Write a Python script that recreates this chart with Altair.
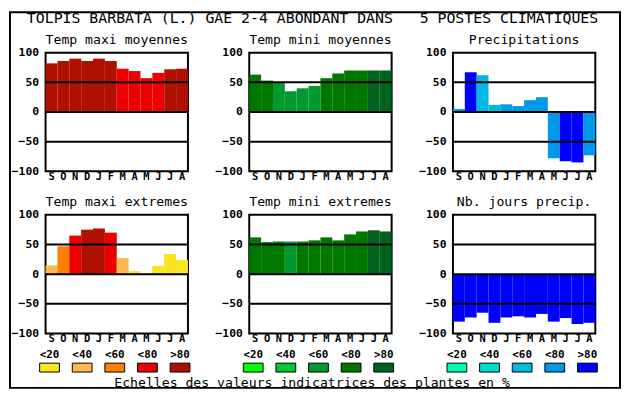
import altair as alt
import pandas as pd

months = ["S", "O", "N", "D", "J", "F", "M", "A", "M", "J", "J", "A"]
classes = ["<20", "<40", "<60", "<80", ">80"]

reds = ["#F8E51E", "#FFB84D", "#FF8000", "#EC0000", "#B01000"]
greens = ["#00FF00", "#00C832", "#009A2E", "#007800", "#006420"]
blues = ["#00FFB0", "#00DCD0", "#00B8E0", "#0098E8", "#0000FF"]

main_title = "TOLPIS BARBATA (L.) GAE 2-4 ABONDANT DANS\u00a0\u00a0\u00a05 POSTES CLIMATIQUES"
footer = "Echelles des valeurs indicatrices des plantes en %"

panel_titles = ["Temp maxi moyennes", "Temp mini moyennes", "Precipitations",
                "Temp maxi extremes", "Temp mini extremes", "Nb. jours precip."]

tmax_moy = [82, 86, 90, 86, 90, 86, 73, 69, 57, 66, 72, 73]
tmax_moy_cls = [4, 4, 4, 4, 4, 4, 3, 3, 3, 3, 4, 4]
tmin_moy = [63, 53, 49, 35, 40, 44, 57, 65, 70, 70, 70, 70]
tmin_moy_cls = [3, 3, 2, 2, 2, 2, 3, 3, 3, 3, 4, 4]
precip = [5, 67, 62, 12, 13, 10, 20, 25, -78, -83, -85, -73]
precip_cls = [3, 4, 2, 2, 3, 3, 3, 3, 3, 4, 4, 3]
tmax_ext = [15, 47, 65, 75, 77, 70, 27, 5, 2, 14, 34, 24]
tmax_ext_cls = [1, 2, 3, 4, 4, 3, 1, 0, 0, 0, 0, 0]
tmin_ext = [62, 54, 55, 55, 55, 57, 62, 57, 67, 72, 74, 72]
tmin_ext_cls = [3, 3, 3, 2, 3, 3, 3, 3, 3, 3, 4, 4]
njours = [-80, -73, -65, -82, -73, -71, -73, -67, -80, -74, -84, -82]
njours_cls = [4, 4, 4, 4, 4, 4, 4, 4, 4, 4, 4, 4]

y_ticks = [-100, -50, 0, 50, 100]
ref_lines = [50, 0, -50]

W, H = 144, 120
MONO = "DejaVu Sans Mono"

month_expr = "[" + ",".join("'%s'" % m for m in months) + "][datum.value]"


def text_mark(txt, x, y, size, weight="normal", baseline="alphabetic"):
    return alt.Chart(pd.DataFrame({"t": [txt]})).mark_text(
        font=MONO, fontSize=size, fontWeight=weight, baseline=baseline,
        align="center", color="black").encode(
        x=alt.value(x), y=alt.value(y), text="t:N")


def panel(title, vals, cls, palette, legend=False, extra=None):
    df = pd.DataFrame({"i": list(range(len(vals))), "v": vals,
                       "c": [palette[k] for k in cls]})
    x = alt.X("i:O", scale=alt.Scale(paddingInner=0, paddingOuter=0),
              axis=alt.Axis(title=None, labelExpr=month_expr, labelAngle=0,
                            labelPadding=0, labelFontSize=10.5,
                            labelOverlap=False))
    y = alt.Y("v:Q", scale=alt.Scale(domain=[-100, 100], nice=False, zero=False),
              axis=alt.Axis(title=None, values=y_ticks, tickCount=5,
                            labelPadding=7, labelFontSize=11.5,
                            labelOverlap=False, labelFlush=False,
                            labelBound=False))
    bars = alt.Chart(df).mark_bar(strokeWidth=0).encode(
        x=x, y=y, color=alt.Color("c:N", scale=None))
    rules = alt.Chart(pd.DataFrame({"v": ref_lines})).mark_rule(
        color="black", strokeWidth=2).encode(y=y)
    layers = [bars, rules, text_mark(title, W / 2, -8.5, 13.3)]
    if legend:
        ldf = pd.DataFrame({"k": classes, "c": palette})
        lx = alt.X("k:N", sort=classes,
                   scale=alt.Scale(type="point", range=[4, 136], padding=0),
                   axis=None)
        ltext = alt.Chart(ldf).mark_text(
            font=MONO, fontWeight="bold", fontSize=11, baseline="middle",
            color="black").encode(x=lx, y=alt.value(141.5), text="k:N")
        lrect = alt.Chart(ldf).mark_rect(
            width=20, stroke="black", strokeWidth=1).encode(
            x=lx, y=alt.value(150), y2=alt.value(159),
            color=alt.Color("c:N", scale=None))
        layers += [ltext, lrect]
    if extra is not None:
        layers += extra
    ch = alt.layer(*layers).properties(width=W, height=H)
    if legend:
        ch = ch.resolve_scale(x="independent")
    return ch


frame = alt.Chart(pd.DataFrame({"a": [0]})).mark_rect(
    fill="transparent", stroke="black", strokeWidth=2).encode(
    x=alt.value(-36), x2=alt.value(581), y=alt.value(-41), y2=alt.value(339))

title_mark = text_mark(main_title, 64, -35, 15, baseline="middle")
footer_mark = text_mark(footer, 63.5, 170, 13.3, baseline="middle")

p1 = panel(panel_titles[0], tmax_moy, tmax_moy_cls, reds, extra=[frame])
p2 = panel(panel_titles[1], tmin_moy, tmin_moy_cls, greens, extra=[title_mark])
p3 = panel(panel_titles[2], precip, precip_cls, blues)
p4 = panel(panel_titles[3], tmax_ext, tmax_ext_cls, reds, legend=True)
p5 = panel(panel_titles[4], tmin_ext, tmin_ext_cls, greens, legend=True,
           extra=[footer_mark])
p6 = panel(panel_titles[5], njours, njours_cls, blues, legend=True)

chart = alt.concat(
    p1, p2, p3, p4, p5, p6, columns=3,
    spacing={"row": 44, "column": 62}, bounds="flush"
).properties(
    background="white", padding=0
).configure_view(
    stroke="black", strokeWidth=2
).configure_axis(
    labelFont=MONO, labelFontWeight="bold", labelColor="black",
    ticks=False, domain=False, grid=False
)

chart.save("out.html", embed_options={"renderer": "svg", "actions": False})
